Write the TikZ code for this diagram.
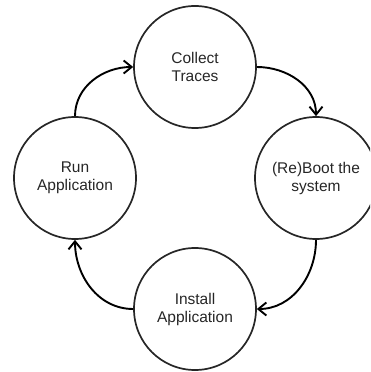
\documentclass[tikz,border=0pt]{standalone}
\usepackage{fontspec}
\setmainfont{Liberation Sans}
\usetikzlibrary{arrows.meta}
\begin{document}
\begin{tikzpicture}[x=1pt,y=1pt,
  stage/.style={circle, draw=black!85, line width=1.7pt, minimum size=122pt,
    inner sep=0pt, align=center, font=\fontsize{15.5}{18}\selectfont, text=black!85},
  flow/.style={line width=1.9pt, black,
    -{Straight Barb[length=8pt,width=13pt,line width=1.9pt]}}]
\clip (0,0) rectangle (370,372);
% the four stages of the cycle
\node[stage] (collect) at (195,305) {Collect\\Traces};
\node[stage] (boot)    at (316,194) {(Re)Boot the\\system};
\node[stage] (install) at (195,63)  {Install\\Application};
\node[stage] (run)     at (75,194)  {Run\\Application};
% curved transitions, clockwise
\draw[flow] (run.north) to[out=90,in=180] (collect.west);
\draw[flow] (collect.east) to[out=0,in=90] (boot.north);
\draw[flow] (boot.south) to[out=-90,in=0] (install.east);
\draw[flow] (install.west) to[out=180,in=-90] (run.south);
\end{tikzpicture}
\end{document}
